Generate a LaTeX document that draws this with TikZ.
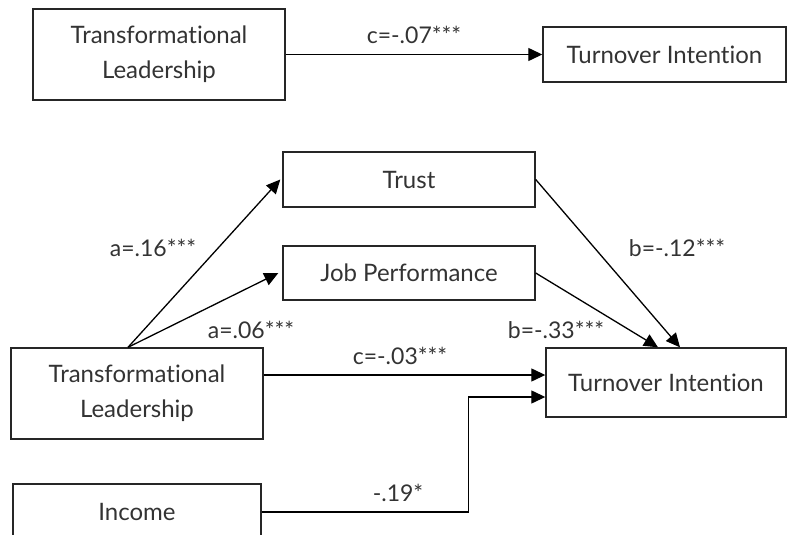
\documentclass[tikz,border=0pt]{standalone}
\usepackage{fontspec}
\setmainfont{Lato}[Ligatures={CommonOff,RareOff}]
\usetikzlibrary{arrows.meta,calc}
\definecolor{txt}{HTML}{333333}
\begin{document}
\begin{tikzpicture}[x=1pt,y=-1pt,
  box/.style={draw=black!85,line width=1.4pt,text=txt,font=\fontsize{24}{35}\selectfont,align=center,inner sep=0pt},
  arr/.style={line width=1.3pt,-{Triangle[length=14pt,width=13pt]}},
  lab/.style={text=txt,font=\fontsize{23}{28}\selectfont,inner sep=0pt}]
\useasboundingbox (0,0) rectangle (787,535);
\begin{scope}
\clip (0,0) rectangle (787,535);
% top model
\node[box,minimum width=252pt,minimum height=91pt] (tl1) at (159,54.5) {Transformational\\Leadership};
\node[box,minimum width=243pt,minimum height=55pt] (ti1) at (664.5,54.5) {Turnover Intention};
% bottom model
\node[box,minimum width=252pt,minimum height=55pt] (tr) at (409,179.5) {Trust};
\node[box,minimum width=252pt,minimum height=54pt] (jp) at (409,273) {Job Performance};
\node[box,minimum width=252pt,minimum height=91pt] (tl2) at (137,393.5) {Transformational\\Leadership};
\node[box,minimum width=240pt,minimum height=69pt] (ti2) at (666,382.5) {Turnover Intention};
\node[box,minimum width=248pt,minimum height=56pt] (inc) at (137,512) {Income};
\end{scope}
% connectors
\draw[arr] (tl1.east) -- (ti1.west);
\draw[arr] ([xshift=-9pt]tl2.north) -- ([xshift=-2pt]tr.west);
\draw[arr] ([xshift=-9pt]tl2.north) -- ([xshift=-4pt]jp.west);
\draw[arr] (tr.east) -- ([xshift=14pt]ti2.north);
\draw[arr] (jp.east) -- ([xshift=-8pt]ti2.north);
\draw[arr] ([yshift=18.5pt]tl2.east) -- ([yshift=18.5pt]tl2.east -| ti2.west);
\draw[arr] (inc.east) -- ++(207,0) |- ([yshift=-14.5pt]ti2.west);
% labels
\node[lab] (l1) at (414,35) {c=-.07***};
\node[lab] (l2) at (153,248) {a=.16***};
\node[lab] (l3) at (251,330) {a=.06***};
\node[lab] (l4) at (677,248) {b=-.12***};
\node[lab] (l5) at (556,330) {b=-.33***};
\node[lab] (l6) at (400,356) {c=-.03***};
\node[lab] (l7) at (398,493) {-.19*};
\end{tikzpicture}
\end{document}
